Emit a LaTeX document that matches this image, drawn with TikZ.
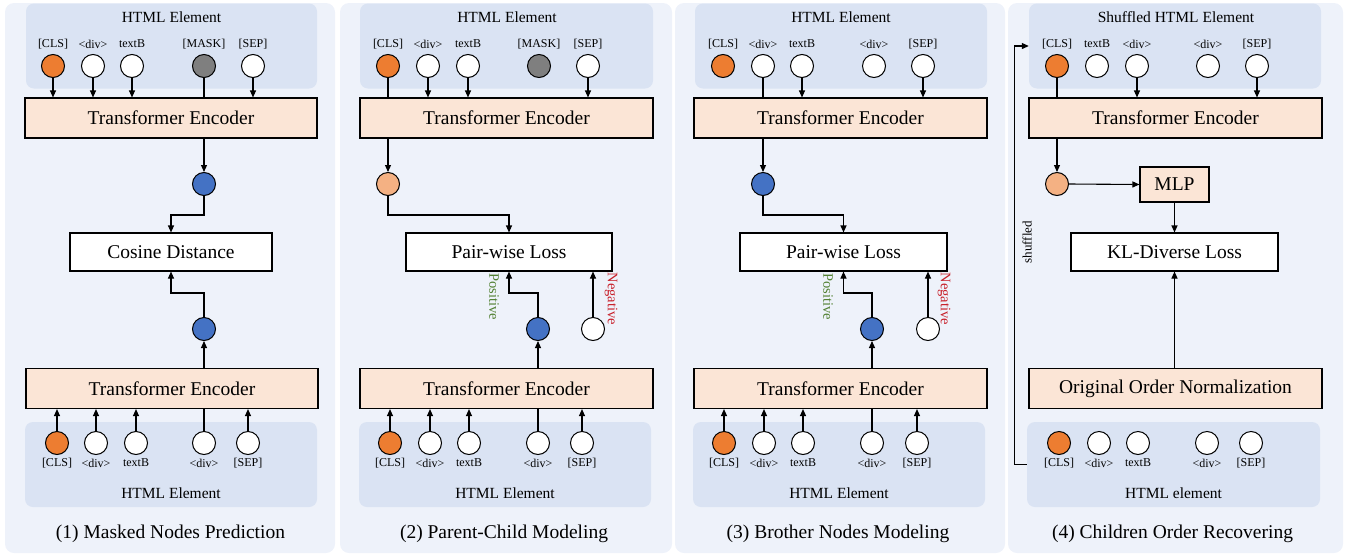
\documentclass[tikz,border=0pt]{standalone}
\usepackage{fontspec}
\setmainfont{Liberation Serif}
\newfontfamily\tnr{Liberation Serif}
\usetikzlibrary{arrows.meta}
\definecolor{panelbg}{HTML}{EEF2FA}
\definecolor{htmlbg}{HTML}{DAE3F3}
\definecolor{peach}{HTML}{FBE5D6}
\definecolor{peachdot}{HTML}{F4B183}
\definecolor{bluedot}{HTML}{4472C4}
\definecolor{orangedot}{HTML}{ED7D31}
\definecolor{graydot}{HTML}{7F7F7F}
\definecolor{posgreen}{HTML}{548235}
\definecolor{negred}{HTML}{C8202A}
\newcommand\bigf{\tnr\fontsize{19.5}{23}\selectfont}
\newcommand\midf{\tnr\fontsize{15.5}{18}\selectfont}
\newcommand\smf{\tnr\fontsize{12}{14}\selectfont}
\newcommand\rotf{\tnr\fontsize{14.5}{17}\selectfont}
\begin{document}
\begin{tikzpicture}[x=1pt,y=-1pt,
  panel/.style={fill=panelbg, rounded corners=9pt, inner sep=0pt, minimum height=550pt},
  hbox/.style={fill=htmlbg, rounded corners=8pt, inner sep=0pt, minimum height=85pt},
  enc/.style={draw=black, line width=1.1pt, fill=peach, inner sep=0pt, minimum height=40pt, font=\bigf},
  lossbox/.style={draw=black, line width=1.1pt, fill=white, inner sep=0pt, minimum height=38pt, font=\bigf},
  tok/.style={circle, draw=black, line width=1pt, minimum size=23pt, inner sep=0pt},
  lab/.style={font=\smf, inner sep=0pt},
  rlab/.style={font=\rotf, inner sep=0pt},
  ttl/.style={font=\midf, inner sep=0pt},
  capt/.style={font=\bigf, inner sep=0pt},
  arr/.style={line width=1.1pt, -{Triangle[length=7pt,width=6pt]}},
  ln/.style={line width=1.1pt}]
\useasboundingbox (0,0) rectangle (1350,555);

% ---------- panels ----------
\node[panel, minimum width=330pt] (p1) at (170,278) {};
\node[panel, minimum width=332pt] (p2) at (506,278) {};
\node[panel, minimum width=330pt] (p3) at (840,278) {};
\node[panel, minimum width=335pt] (p4) at (1175.5,278) {};

% ================= Panel 1 =================
\node[hbox, minimum width=291pt] (h1t) at (171.5,46) {};
\node[ttl] (h1tt) at (171.5,17) {HTML Element};
\foreach \x/\f/\l/\n in {53/orangedot/[CLS]/1, 93/white/<div>/2, 132/white/textB/3, 204/graydot/[MASK]/4, 253/white/[SEP]/5}{
  \node[tok, fill=\f] (a\n) at (\x,66) {};
  \node[lab] (la\n) at (\x,44) {\l};
}
\node[enc, minimum width=292pt] (te1a) at (171,118) {Transformer Encoder};
\foreach \n in {1,2,3,5}{ \draw[arr] (a\n.south) -- (a\n.south |- te1a.north); }
\draw[ln] (a4.south) -- (a4.south |- te1a.north);
\node[tok, fill=bluedot] (b1a) at (204,184) {};
\node[lossbox, minimum width=202pt] (cos) at (171,252) {Cosine Distance};
\node[tok, fill=bluedot] (b1b) at (204,329) {};
\node[enc, minimum width=292pt] (te1b) at (172,388.5) {Transformer Encoder};
\draw[arr] (te1a.south -| b1a) -- (b1a.north);
\draw[arr] (b1a.south) -- ++(0,19) -| (cos.north);
\draw[arr] (b1b.north) -- ++(0,-24) -| (cos.south);
\draw[arr] (te1b.north -| b1b) -- (b1b.south);
\node[hbox, minimum width=292pt] (h1b) at (171,464.5) {};
\foreach \x/\f/\l/\n in {57/orangedot/[CLS]/1, 96/white/<div>/2, 136/white/textB/3, 204/white/<div>/4, 248/white/[SEP]/5}{
  \node[tok, fill=\f] (c\n) at (\x,443) {};
  \node[lab] (lc\n) at (\x,463) {\l};
}
\foreach \n in {1,2,3,5}{ \draw[arr] (c\n.north) -- (c\n.north |- te1b.south); }
\draw[ln] (c4.north) -- (c4.north |- te1b.south);
\node[ttl] (h1bt) at (171,493) {HTML Element};
\node[capt] (cap1) at (170.5,534) {(1) Masked Nodes Prediction};

% ================= Panel 2 =================
\node[hbox, minimum width=293pt] (h2t) at (506.5,46) {};
\node[ttl] (h2tt) at (507,17) {HTML Element};
\foreach \x/\f/\l/\n in {388/orangedot/[CLS]/1, 428/white/<div>/2, 468/white/textB/3, 539/graydot/[MASK]/4, 588/white/[SEP]/5}{
  \node[tok, fill=\f] (d\n) at (\x,66) {};
  \node[lab] (ld\n) at (\x,44) {\l};
}
\node[enc, minimum width=293pt] (te2a) at (506.5,118) {Transformer Encoder};
\foreach \n in {2,3,5}{ \draw[arr] (d\n.south) -- (d\n.south |- te2a.north); }
\draw[ln] (d1.south) -- (d1.south |- te2a.north);
\node[tok, fill=peachdot] (q2) at (388,184) {};
\node[lossbox, minimum width=206pt] (pw2) at (509,252) {Pair-wise Loss};
\node[tok, fill=bluedot] (b2) at (538,329) {};
\node[tok, fill=white] (n2) at (593,329) {};
\node[enc, minimum width=293pt] (te2b) at (506.5,388.5) {Transformer Encoder};
\draw[arr] (te2a.south -| q2) -- (q2.north);
\draw[arr] (q2.south) -- ++(0,19) -| (pw2.north);
\draw[arr] (b2.north) -- ++(0,-24) -| (pw2.south);
\draw[arr] (n2.north) -- (n2.north |- pw2.south);
\draw[arr] (te2b.north -| b2) -- (b2.south);
\node[rlab, text=posgreen, rotate=-90] (pos2) at (494,297) {Positive};
\node[rlab, text=negred, rotate=-90] (neg2) at (611,299) {Negative};
\node[hbox, minimum width=292pt] (h2b) at (505,464.5) {};
\foreach \x/\f/\l/\n in {390/orangedot/[CLS]/1, 430/white/<div>/2, 469/white/textB/3, 538/white/<div>/4, 582/white/[SEP]/5}{
  \node[tok, fill=\f] (e\n) at (\x,443) {};
  \node[lab] (le\n) at (\x,463) {\l};
}
\foreach \n in {1,2,3,5}{ \draw[arr] (e\n.north) -- (e\n.north |- te2b.south); }
\draw[ln] (e4.north) -- (e4.north |- te2b.south);
\node[ttl] (h2bt) at (505,493) {HTML Element};
\node[capt] (cap2) at (504,534) {(2) Parent-Child Modeling};

% ================= Panel 3 =================
\node[hbox, minimum width=292pt] (h3t) at (841,46) {};
\node[ttl] (h3tt) at (841,17) {HTML Element};
\foreach \x/\f/\l/\n in {723/orangedot/[CLS]/1, 763/white/<div>/2, 802/white/textB/3, 874/white/<div>/4, 923/white/[SEP]/5}{
  \node[tok, fill=\f] (g\n) at (\x,66) {};
  \node[lab] (lg\n) at (\x,44) {\l};
}
\node[enc, minimum width=293pt] (te3a) at (840.5,118) {Transformer Encoder};
\foreach \n in {3,5}{ \draw[arr] (g\n.south) -- (g\n.south |- te3a.north); }
\draw[ln] (g2.south) -- (g2.south |- te3a.north);
\node[tok, fill=bluedot] (b3a) at (763,184) {};
\node[lossbox, minimum width=207pt] (pw3) at (843.5,252) {Pair-wise Loss};
\node[tok, fill=bluedot] (b3b) at (872,329) {};
\node[tok, fill=white] (n3) at (928,329) {};
\node[enc, minimum width=293pt] (te3b) at (840.5,388.5) {Transformer Encoder};
\draw[arr] (te3a.south -| b3a) -- (b3a.north);
\draw[arr] (b3a.south) -- ++(0,19) -| (pw3.north);
\draw[arr] (b3b.north) -- ++(0,-24) -| (pw3.south);
\draw[arr] (n3.north) -- (n3.north |- pw3.south);
\draw[arr] (te3b.north -| b3b) -- (b3b.south);
\node[rlab, text=posgreen, rotate=-90] (pos3) at (828,297) {Positive};
\node[rlab, text=negred, rotate=-90] (neg3) at (944,299) {Negative};
\node[hbox, minimum width=292pt] (h3b) at (839,464.5) {};
\foreach \x/\f/\l/\n in {724/orangedot/[CLS]/1, 764/white/<div>/2, 803/white/textB/3, 872/white/<div>/4, 917/white/[SEP]/5}{
  \node[tok, fill=\f] (k\n) at (\x,443) {};
  \node[lab] (lk\n) at (\x,463) {\l};
}
\foreach \n in {1,2,3,5}{ \draw[arr] (k\n.north) -- (k\n.north |- te3b.south); }
\draw[ln] (k4.north) -- (k4.north |- te3b.south);
\node[ttl] (h3bt) at (839,493) {HTML Element};
\node[capt] (cap3) at (838,534) {(3) Brother Nodes Modeling};

% ================= Panel 4 =================
\node[hbox, minimum width=292pt] (h4t) at (1175,46) {};
\node[ttl] (h4tt) at (1176,17) {Shuffled HTML Element};
\foreach \x/\f/\l/\n in {1057/orangedot/[CLS]/1, 1097/white/textB/2, 1137/white/<div>/3, 1208/white/<div>/4, 1257/white/[SEP]/5}{
  \node[tok, fill=\f] (m\n) at (\x,66) {};
  \node[lab] (lm\n) at (\x,44) {\l};
}
\node[enc, minimum width=293pt] (te4a) at (1175.5,118) {Transformer Encoder};
\foreach \n in {3,5}{ \draw[arr] (m\n.south) -- (m\n.south |- te4a.north); }
\draw[ln] (m1.south) -- (m1.south |- te4a.north);
\node[tok, fill=peachdot] (q4) at (1057,184) {};
\node[enc, minimum width=69pt, minimum height=35pt] (mlp) at (1174.5,184.5) {MLP};
\node[lossbox, minimum width=207pt] (kl) at (1174.5,252) {KL-Diverse Loss};
\node[enc, minimum width=293pt] (oon) at (1175.5,388.5) {Original Order Normalization};
\draw[arr] (te4a.south -| q4) -- (q4.north);
\draw[arr] (q4.east) -- (mlp.west);
\draw[arr] (mlp.south) -- (kl.north);
\draw[arr] (oon.north -| kl) -- (kl.south);
\node[hbox, minimum width=293pt] (h4b) at (1173.5,464.5) {};
\foreach \x/\f/\l/\n in {1059/orangedot/[CLS]/1, 1099/white/<div>/2, 1138/white/textB/3, 1207/white/<div>/4, 1251/white/[SEP]/5}{
  \node[tok, fill=\f] (r\n) at (\x,443) {};
  \node[lab] (lr\n) at (\x,463) {\l};
}
\node[ttl] (h4bt) at (1173.5,493) {HTML element};
\draw[arr] (h4b.west) -- ++(-12,0) |- (h4t.west);
\node[rlab, rotate=90, font=\tnr\fontsize{13}{15}\selectfont] (shuf) at (1027,242) {shuffled};
\node[capt] (cap4) at (1172.5,534) {(4) Children Order Recovering};
\end{tikzpicture}
\end{document}
